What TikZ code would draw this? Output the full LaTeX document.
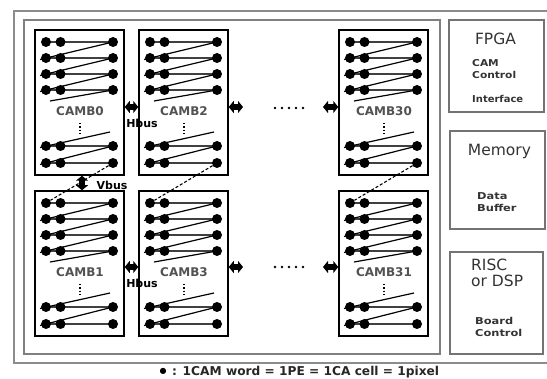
\documentclass[tikz,border=0pt]{standalone}
\usepackage{fontspec}
\setmainfont{DejaVu Sans}
\usetikzlibrary{arrows.meta,backgrounds,calc}
\tikzset{
  cambbox/.style={draw=black, line width=1.5pt, minimum width=89pt, minimum height=145pt, inner sep=0pt},
  pe/.style={circle, fill=black, inner sep=0pt, minimum size=10pt},
  hwire/.style={draw=black!75, line width=2pt},
  dwire/.style={draw=black, line width=1.2pt},
  vlink/.style={draw=black, line width=1.1pt, dash pattern=on 3pt off 2pt},
  bus/.style={line width=5.5pt, {Triangle[length=5pt,width=12pt]}-{Triangle[length=5pt,width=12pt]}},
  camblabel/.style={font=\bfseries\fontsize{12}{12}\selectfont, text=black!68, inner sep=0pt},
  buslabel/.style={font=\bfseries\fontsize{11}{11}\selectfont, text=black, inner sep=0pt},
  sidebox/.style={draw=black!55, line width=1.5pt},
  biglabel/.style={font=\fontsize{15.5}{15.5}\selectfont, text=black!80, inner sep=0pt},
  smalllabel/.style={font=\bfseries\fontsize{9.5}{9.5}\selectfont, text=black!80, inner sep=0pt, anchor=west},
  elldot/.style={circle, fill=black, inner sep=0pt, minimum size=2.8pt},
}
\newcommand{\cambblock}[4]{%
  \begin{scope}[shift={(#2,#3)}]
    \node[cambbox] (#1) at (44.5,72.5) {};
    \foreach \r/\yy in {1/12,2/28,3/44,4/60,5/116,6/133}{
      \node[pe] (#1-\r-a) at (11,\yy) {};
      \node[pe] (#1-\r-b) at (25.5,\yy) {};
      \node[pe] (#1-\r-c) at (78,\yy) {};
    }
    \coordinate (#1-ce) at (15,71);
    \coordinate (#1-cs) at (75,102);
    \node[camblabel] (#1-lab) at (45,81) {#4};
    \coordinate (#1-vt) at (45,93);
    \coordinate (#1-vb) at (45,106);
  \end{scope}
  \begin{pgfonlayer}{background}
    \foreach \r in {1,...,6}{\draw[hwire] (#1-\r-a.center) -- (#1-\r-c.center);}
    \foreach \r/\s in {2/1,3/2,4/3,6/5}{\draw[dwire] ($(#1-\r-a.center)+(-6,1.5)$) -- (#1-\s-c.center);}
    \draw[dwire] (#1-ce) -- (#1-4-c.center);
    \draw[dwire] ($(#1-5-a.center)+(-6,1.5)$) -- (#1-cs);
    \draw[line width=1.3pt, dash pattern=on 1.3pt off 2pt] (#1-vt) -- (#1-vb);
  \end{pgfonlayer}
}
\begin{document}
\begin{tikzpicture}[x=1pt,y=-1pt]
\useasboundingbox (0,0) rectangle (547,379);
% frames
\draw[black!45, line width=2pt] (548,11) -- (14,11) -- (14,363) -- (548,363);
\draw[black!50, line width=1.5pt] (24,20) rectangle (440,354);
% CAM blocks
\cambblock{b0}{35}{30}{CAMB0}
\cambblock{b2}{139}{30}{CAMB2}
\cambblock{b30}{339}{30}{CAMB30}
\cambblock{b1}{35}{191}{CAMB1}
\cambblock{b3}{139}{191}{CAMB3}
\cambblock{b31}{339}{191}{CAMB31}
% buses
\coordinate (u-r) at (243,107);
\coordinate (u-l) at (323,107);
\coordinate (l-r) at (243,267);
\coordinate (l-l) at (323,267);
\draw[bus] ([yshift=-4.5pt]b0.east) -- ([yshift=-4.5pt]b2.west);
\draw[bus] ([yshift=-4.5pt]b2.east) -- (u-r);
\draw[bus] (u-l) -- ([yshift=-4.5pt]b30.west);
\draw[bus] ([yshift=-3.5pt]b1.east) -- ([yshift=-3.5pt]b3.west);
\draw[bus] ([yshift=-3.5pt]b3.east) -- (l-r);
\draw[bus] (l-l) -- ([yshift=-3.5pt]b31.west);
\draw[bus] ([xshift=2.5pt]b0.south) -- ([xshift=2.5pt]b1.north);
\node[buslabel] (hb1) at (142,123) {Hbus};
\node[buslabel] (hb2) at (142,283) {Hbus};
\node[buslabel] (vb) at (112,185) {Vbus};
% ellipses
\foreach \xx in {275,282,289,296,303}{
  \node[elldot] at (\xx,108) {};
  \node[elldot] at (\xx,267) {};
}
% vertical links
\draw[vlink] (b0-6-c) -- (b1-1-a);
\draw[vlink] (b2-6-c) -- (b3-1-a);
\draw[vlink] (b30-6-c) -- (b31-1-a);
% side boxes
\draw[sidebox] (449,20) rectangle (544,112);
\draw[sidebox] (450,131) rectangle (545,229);
\draw[sidebox] (450,252) rectangle (543,354);
\node[biglabel] (fpga) at (495.5,39) {FPGA};
\node[smalllabel] (cam) at (472,63) {\scalebox{1.12}[1]{CAM}};
\node[smalllabel] (ctl) at (472,75) {\scalebox{1.12}[1]{Control}};
\node[smalllabel] (itf) at (472,99) {\scalebox{1.05}[1]{Interface}};
\node[biglabel] (mem) at (499.5,151) {Memory};
\node[smalllabel] (data) at (477,196) {\scalebox{1.2}[1]{Data}};
\node[smalllabel] (buf) at (477,208) {\scalebox{1.2}[1]{Buffer}};
\node[biglabel, anchor=west] (risc) at (471,265) {RISC};
\node[biglabel, anchor=west] (dsp) at (471,281) {or DSP};
\node[smalllabel] (brd) at (475,321) {\scalebox{1.2}[1]{Board}};
\node[smalllabel] (bctl) at (475,333) {\scalebox{1.2}[1]{Control}};
% legend
\node[inner sep=0pt, font=\fontsize{8}{8}\selectfont] (legdot) at (163,371) {●};
\node[inner sep=0pt, anchor=west, font=\bfseries\fontsize{12.2}{12.2}\selectfont, text=black!85] (legtxt) at (172,372) {: 1CAM word = 1PE = 1CA cell = 1pixel};
\end{tikzpicture}
\end{document}
